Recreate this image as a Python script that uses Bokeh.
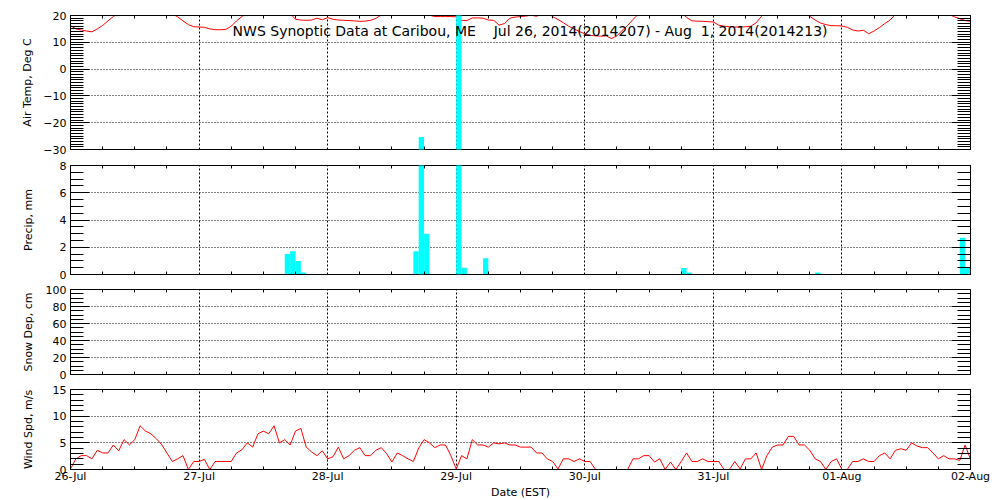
import pandas as pd
from bokeh.plotting import figure
from bokeh.layouts import column
from bokeh.models import (ColumnDataSource, Range1d, LinearAxis, DatetimeAxis, FixedTicker,
                          Grid, BoxAnnotation, Label, DatetimeTickFormatter,
                          CustomLabelingPolicy)
from bokeh.embed import file_html
from bokeh.resources import INLINE

# ---------------- data ----------------
start_time = "2014-07-26 00:00"
end_time = "2014-08-02 00:00"

# hourly air temperature, deg C (26-Jul 00:00 .. 02-Aug 00:00)
air_temp_c = [
    16.2, 15.0, 14.6, 14.2, 13.9, 15.0, 16.3, 18.0, 19.6, 21.0, 23.0, 24.5,
    25.5, 26.3, 26.8, 26.5, 25.5, 24.0, 22.2, 20.6, 19.5, 18.0, 16.6, 15.8,
    15.7, 15.6, 15.0, 14.7, 14.7, 14.8, 16.0, 18.0, 19.6, 21.0, 22.5, 23.5,
    24.0, 24.5, 24.3, 23.5, 22.2, 20.8, 18.6, 18.3, 18.2, 18.3, 19.0, 18.4,
    19.2, 18.6, 18.3, 18.2, 18.1, 18.0, 17.8, 17.9, 18.2, 18.9, 20.2, 21.5,
    22.5, 23.0, 22.5, 21.5, 20.5, 20.3, 20.2, 20.1, 19.6, 19.6, 19.6, 19.6,
    19.5, 18.2, 18.1, 19.1, 19.1, 19.0, 18.3, 18.2, 16.4, 17.0, 19.0, 19.4,
    19.6, 19.8, 20.1, 19.7, 20.5, 21.0, 19.6, 18.5, 17.3, 16.0, 15.0, 14.0,
    13.2, 12.6, 12.4, 12.3, 12.4, 11.4, 12.4, 14.5, 16.3, 18.5, 20.6, 22.0,
    23.5, 24.5, 25.0, 25.0, 24.5, 23.0, 21.0, 19.3, 18.0, 17.9, 17.8, 17.7,
    17.6, 16.4, 16.0, 15.8, 15.7, 15.7, 15.8, 16.0, 17.3, 19.7, 21.5, 23.0,
    24.5, 25.0, 25.0, 24.0, 22.5, 20.8, 19.7, 18.3, 17.2, 16.6, 16.2, 16.2,
    16.1, 15.6, 14.6, 14.2, 14.5, 13.2, 14.2, 15.5, 17.0, 18.3, 20.5, 22.5,
    24.0, 25.5, 26.5, 27.0, 26.5, 25.0, 23.0, 21.3, 20.4, 19.5, 18.8, 18.1,
    17.8,
]

# hourly wind speed, m/s
wind_spd_ms = [
    0.1, 2.0, 2.6, 2.6, 2.0, 3.6, 3.1, 3.1, 4.6, 3.5, 5.6, 4.6,
    5.6, 8.2, 7.2, 6.7, 5.8, 4.7, 3.1, 1.5, 2.0, 2.6, 0.0, 1.5,
    1.5, 1.9, 0.0, 1.5, 1.5, 1.5, 1.5, 3.1, 3.7, 5.0, 4.2, 6.7,
    7.2, 6.7, 8.2, 5.0, 5.6, 4.6, 7.2, 7.7, 4.2, 3.3, 2.6, 3.5,
    2.0, 2.4, 4.2, 2.0, 2.6, 3.6, 4.1, 2.6, 2.6, 3.6, 4.1, 3.0,
    1.4, 3.1, 2.6, 2.0, 1.5, 4.0, 5.6, 5.0, 4.1, 4.6, 4.6, 2.6,
    0.1, 2.6, 2.0, 5.6, 4.6, 4.6, 4.2, 5.0, 4.8, 5.0, 4.6, 4.6,
    4.2, 4.2, 4.2, 3.1, 3.1, 2.0, 1.5, 0.1, 2.0, 2.0, 1.5, 2.0,
    1.5, 1.5, 0.0, 0.0, 0.0, 0.0, 0.0, 0.0, 0.0, 2.0, 2.0, 2.6,
    2.6, 1.4, 2.0, 0.0, 1.4, 0.0, 1.5, 3.1, 1.5, 1.5, 2.0, 1.5,
    1.5, 1.5, 0.0, 0.0, 1.5, 0.1, 2.0, 2.0, 3.1, 0.0, 2.6, 4.2,
    4.6, 4.6, 6.2, 6.2, 4.6, 4.6, 3.6, 2.0, 1.5, 0.0, 1.5, 2.0,
    0.0, 0.0, 1.5, 1.5, 2.0, 1.5, 1.5, 2.6, 3.1, 2.0, 3.6, 3.9,
    3.6, 5.0, 4.4, 4.1, 4.1, 3.1, 2.0, 2.6, 2.0, 2.0, 1.7, 4.6,
    1.9,
]

# hourly precipitation: hour index since start, amount in mm
precip_hour = [40, 41, 42, 43, 64, 65, 66, 72, 73, 77, 114, 115, 139, 166, 167]
precip_mm = [1.5, 1.7, 1.0, 0.15, 1.7, 10.1, 3.0, 22.0, 0.5, 1.2, 0.47, 0.15, 0.15, 2.7, 0.5]

# snow depth: no reports in this period
snow_depth_cm = []

NB = "\u00a0"
title_text = ("NWS Synoptic Data at Caribou, ME" + NB * 4 + "Jul 26, 2014(2014207) - Aug"
              + NB * 2 + "1, 2014(2014213)")
temp_label = "Air Temp, Deg C"
precip_label = "Precip, mm"
snow_label = "Snow Dep, cm"
wind_label = "Wind Spd, m/s"
x_label = "Date (EST)"

temp_ticks = [-30, -20, -10, 0, 10, 20]
precip_ticks = [0, 2, 4, 6, 8]
snow_ticks = [0, 20, 40, 60, 80, 100]
wind_ticks = [0, 5, 10, 15]

# ---------------- helpers ----------------
FONT = "DejaVu Sans"
HOUR_MS = 3600 * 1000.0


def ms(ts):
    return pd.Timestamp(ts).value / 1e6


times = pd.date_range(start_time, end_time, freq="h")
assert len(times) == len(air_temp_c) == len(wind_spd_ms)
t_ms = [ms(t) for t in times]
day_ms = [ms(t) for t in pd.date_range(start_time, end_time, freq="D")]
six_ms = [ms(t) for t in pd.date_range(start_time, end_time, freq="6h") if t.hour != 0]

xr = Range1d(ms(start_time), ms(end_time))

# layout (px)
FRAME_W = 900
B_LEFT, B_RIGHT = 70, 30
T_TOP, T_H, T_BOT = 15, 134, 8
P_TOP, P_H, P_BOT = 8, 109, 7
S_TOP, S_H, S_BOT = 8, 85, 7
W_TOP, W_H, W_BOT = 8, 80, 30

NO_LABELS = CustomLabelingPolicy(code="return []")


def minor_list(lo, hi, step, majors):
    out = []
    v = lo
    while v <= hi + 1e-9:
        if all(abs(v - m) > 1e-9 for m in majors):
            out.append(round(v, 4))
        v += step
    return out


def hide_labels(ax):
    ax.major_label_text_font_size = "0px"
    ax.major_label_standoff = 0
    ax.major_label_policy = NO_LABELS


def panel(frame_h, b_top, b_bot, yrange, major, minor_step, ylabel, label_standoff,
          bottom_labels=False):
    p = figure(frame_width=FRAME_W, frame_height=frame_h, x_range=xr,
               y_range=Range1d(*yrange), x_axis_type=None, y_axis_type=None,
               output_backend="svg", toolbar_location=None,
               min_border_left=B_LEFT, min_border_right=B_RIGHT,
               min_border_top=b_top, min_border_bottom=b_bot)
    p.outline_line_color = "black"
    p.outline_line_alpha = 1.0
    p.outline_line_width = 1
    p.background_fill_color = "white"
    p.border_fill_color = "white"

    yt = FixedTicker(ticks=major, minor_ticks=minor_list(yrange[0], yrange[1], minor_step, major))
    xt = FixedTicker(ticks=day_ms, minor_ticks=six_ms)

    for side in ("left", "right"):
        ax = LinearAxis(ticker=yt)
        ax.axis_line_color = "black"
        ax.major_tick_line_color = "black"
        ax.minor_tick_line_color = "black"
        ax.major_tick_in = 19
        ax.major_tick_out = 0
        ax.minor_tick_in = 13
        ax.minor_tick_out = 0
        if side == "left":
            ax.axis_label = ylabel
            ax.axis_label_text_font = FONT
            ax.axis_label_text_font_size = "11px"
            ax.axis_label_text_font_style = "normal"
            ax.axis_label_text_color = "black"
            ax.axis_label_standoff = label_standoff
            ax.major_label_text_font = FONT
            ax.major_label_text_font_size = "11px"
            ax.major_label_text_color = "black"
            ax.major_label_standoff = 4
        else:
            hide_labels(ax)
        p.add_layout(ax, side)

    for side in ("above", "below"):
        ax = DatetimeAxis(ticker=xt)
        ax.axis_line_color = "black"
        ax.major_tick_line_color = "black"
        ax.minor_tick_line_color = "black"
        ax.major_tick_in = 0
        ax.major_tick_out = 0
        ax.minor_tick_in = 3
        ax.minor_tick_out = 0
        if side == "below" and bottom_labels:
            ax.formatter = DatetimeTickFormatter(hours="%d-%b", days="%d-%b", months="%d-%b",
                                                 years="%d-%b")
            ax.major_label_text_font = FONT
            ax.major_label_text_font_size = "11px"
            ax.major_label_text_color = "black"
            ax.major_label_standoff = 0
            ax.axis_label = x_label
            ax.axis_label_text_font = FONT
            ax.axis_label_text_font_size = "11px"
            ax.axis_label_text_font_style = "normal"
            ax.axis_label_text_color = "black"
            ax.axis_label_standoff = 0
        else:
            hide_labels(ax)
        p.add_layout(ax, side)

    p.add_layout(Grid(dimension=0, ticker=xt, grid_line_color="black",
                      grid_line_dash="2 2", grid_line_width=1))
    p.add_layout(Grid(dimension=1, ticker=yt, grid_line_color="black",
                      grid_line_dash="1 2", grid_line_width=1))
    return p


TEMP_R = (-30, 20)
PREC_R = (0, 8)

p_temp = panel(T_H, T_TOP, T_BOT, TEMP_R, temp_ticks, 1, temp_label, 6)
p_prec = panel(P_H, P_TOP, P_BOT, PREC_R, precip_ticks, 0.5, precip_label, 22)
p_snow = panel(S_H, S_TOP, S_BOT, (0, 100), snow_ticks, 5, snow_label, 8)
p_wind = panel(W_H, W_TOP, W_BOT, (0, 15), wind_ticks, 1, wind_label, 15, bottom_labels=True)

# air temperature line
p_temp.line(x=t_ms, y=air_temp_c, line_color="#ff0000", line_width=1)

# precipitation bars
p_left = [ms(start_time) + h * HOUR_MS for h in precip_hour]
normal = [i for i, v in enumerate(precip_mm) if v <= PREC_R[1]]
tall = [i for i, v in enumerate(precip_mm) if v > PREC_R[1]]
src = ColumnDataSource(dict(left=[p_left[i] for i in normal],
                            right=[p_left[i] + HOUR_MS for i in normal],
                            top=[precip_mm[i] for i in normal],
                            bottom=[0.0 for i in normal]))
p_prec.quad(left="left", right="right", top="top", bottom="bottom", source=src,
            fill_color="#00ffff", line_color=None)

# bars running above the precip panel continue up through the panel above it
gap_px = T_BOT + P_TOP + P_H  # screen distance from temp-panel bottom to precip zero
t_per_px = (TEMP_R[1] - TEMP_R[0]) / T_H
mm_px = P_H / (PREC_R[1] - PREC_R[0])


def precip_in_temp_units(v):
    return TEMP_R[0] + (v * mm_px - gap_px) * t_per_px


for i in tall:
    L, R, v = p_left[i], p_left[i] + HOUR_MS, precip_mm[i]
    p_prec.add_layout(BoxAnnotation(left=L, right=R, bottom=0, top=v,
                                    fill_color="#00ffff", fill_alpha=1.0,
                                    line_color=None, line_alpha=0))
    p_temp.add_layout(BoxAnnotation(left=L, right=R, bottom=precip_in_temp_units(0),
                                    top=precip_in_temp_units(v),
                                    fill_color="#00ffff", fill_alpha=1.0,
                                    line_color=None, line_alpha=0))

# title inside the temperature panel
p_temp.add_layout(Label(x=ms("2014-07-29 13:47"), y=14.2, text=title_text,
                        text_align="center", text_baseline="middle",
                        text_font=FONT, text_font_size="14px", text_color="black"))

# wind speed line
p_wind.line(x=t_ms, y=wind_spd_ms, line_color="#ff0000", line_width=1)

layout = column(p_temp, p_prec, p_snow, p_wind, spacing=0)

with open("out.html", "w") as f:
    f.write(file_html(layout, INLINE))
